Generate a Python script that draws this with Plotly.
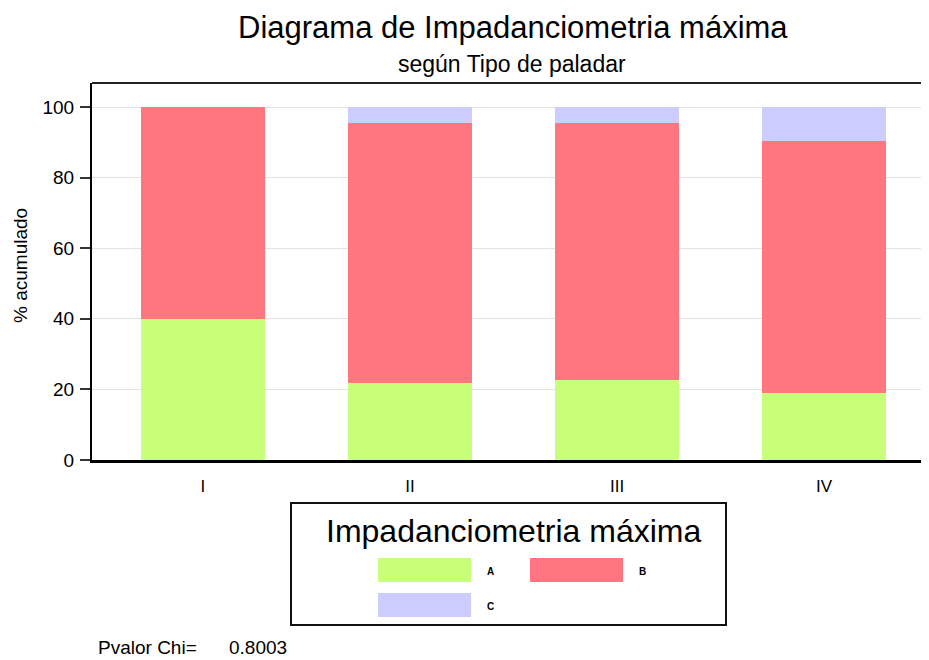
import plotly.graph_objects as go

# datos (% acumulado por tipo de paladar)
tipos = ["I", "II", "III", "IV"]
series = ["A", "B", "C"]
pct_a = [40.0, 21.7, 22.7, 19.0]
pct_b = [60.0, 73.9, 72.8, 71.5]
pct_c = [0.0, 4.4, 4.5, 9.5]
colores = ["#c8ff78", "#ff7680", "#ccccff"]
pvalor = "0.8003"

FUENTE = "Arial, Liberation Sans, sans-serif"
# la página tiene 8px de margen: la figura ocupa 921x652 dentro de 929x660
W, H = 921, 652
ML, MR, MT, MB = 84, 0, 75, 200


# coordenadas de pantalla -> paper
def px_x(vx):
    return (vx - 8 - ML) / (W - ML - MR)


def px_y(vy):
    return (H - MB - (vy - 8)) / (H - MT - MB)


def texto(fig, t, vx, vy, size, xanchor="center", yanchor="middle"):
    fig.add_annotation(text=t, xref="paper", yref="paper",
                       x=px_x(vx), y=px_y(vy), xanchor=xanchor,
                       yanchor=yanchor, showarrow=False,
                       font=dict(size=size))


fig = go.Figure()
for nombre, vals, col in zip(series, [pct_a, pct_b, pct_c], colores):
    fig.add_trace(go.Bar(
        x=tipos, y=vals, name=nombre,
        marker=dict(color=col, line=dict(width=0)),
        showlegend=False,
    ))

fig.update_layout(
    barmode="stack",
    bargap=0.405,
    width=W, height=H,
    paper_bgcolor="white",
    plot_bgcolor="white",
    font=dict(family=FUENTE, color="#000000", size=16),
    margin=dict(l=ML, r=MR, t=MT, b=MB, pad=0),
)
fig.update_xaxes(
    range=[-0.536, 3.507],
    showline=True, linecolor="#000000", linewidth=3,
    ticks="", showgrid=False,
    tickfont=dict(size=17), ticklabelstandoff=9,
)
fig.update_yaxes(
    range=[0, 106.8],
    tickvals=[0, 20, 40, 60, 80, 100],
    showline=True, linecolor="#000000", linewidth=2,
    ticks="outside", ticklen=10, tickwidth=2, tickcolor="#333333",
    gridcolor="#e3e3e3", gridwidth=1, zeroline=False,
    tickfont=dict(size=19), ticklabelstandoff=2,
)

# borde superior del marco
fig.add_shape(type="line", xref="paper", yref="paper",
              x0=0, x1=1, y0=1, y1=1,
              line=dict(color="#222222", width=2))

# títulos
texto(fig, "Diagrama de Impadanciometria máxima", 513, 8, 31,
      yanchor="top")
texto(fig, "según Tipo de paladar", 512, 64, 23)
fig.add_annotation(text="% acumulado", xref="paper", yref="paper",
                   x=px_x(20), y=px_y(266), textangle=-90,
                   xanchor="center", yanchor="middle", showarrow=False,
                   font=dict(size=19))

# leyenda manual
fig.add_shape(type="rect", xref="paper", yref="paper",
              x0=px_x(291), x1=px_x(726), y0=px_y(503), y1=px_y(625),
              line=dict(color="#111111", width=2), fillcolor="white")
texto(fig, "Impadanciometria máxima", 513, 531, 32)
pos_leyenda = [(378, 558), (530, 558), (378, 593)]
for nombre, col, (lx, ly) in zip(series, colores, pos_leyenda):
    fig.add_shape(type="rect", xref="paper", yref="paper",
                  x0=px_x(lx), x1=px_x(lx + 93),
                  y0=px_y(ly), y1=px_y(ly + 24),
                  line=dict(width=0), fillcolor=col)
    texto(fig, "<b>" + nombre + "</b>", lx + 112, ly + 13, 10)

texto(fig, "Pvalor Chi=", 96, 647, 19, xanchor="left")
texto(fig, pvalor, 227, 647, 19, xanchor="left")

fig.write_html("out.html")
